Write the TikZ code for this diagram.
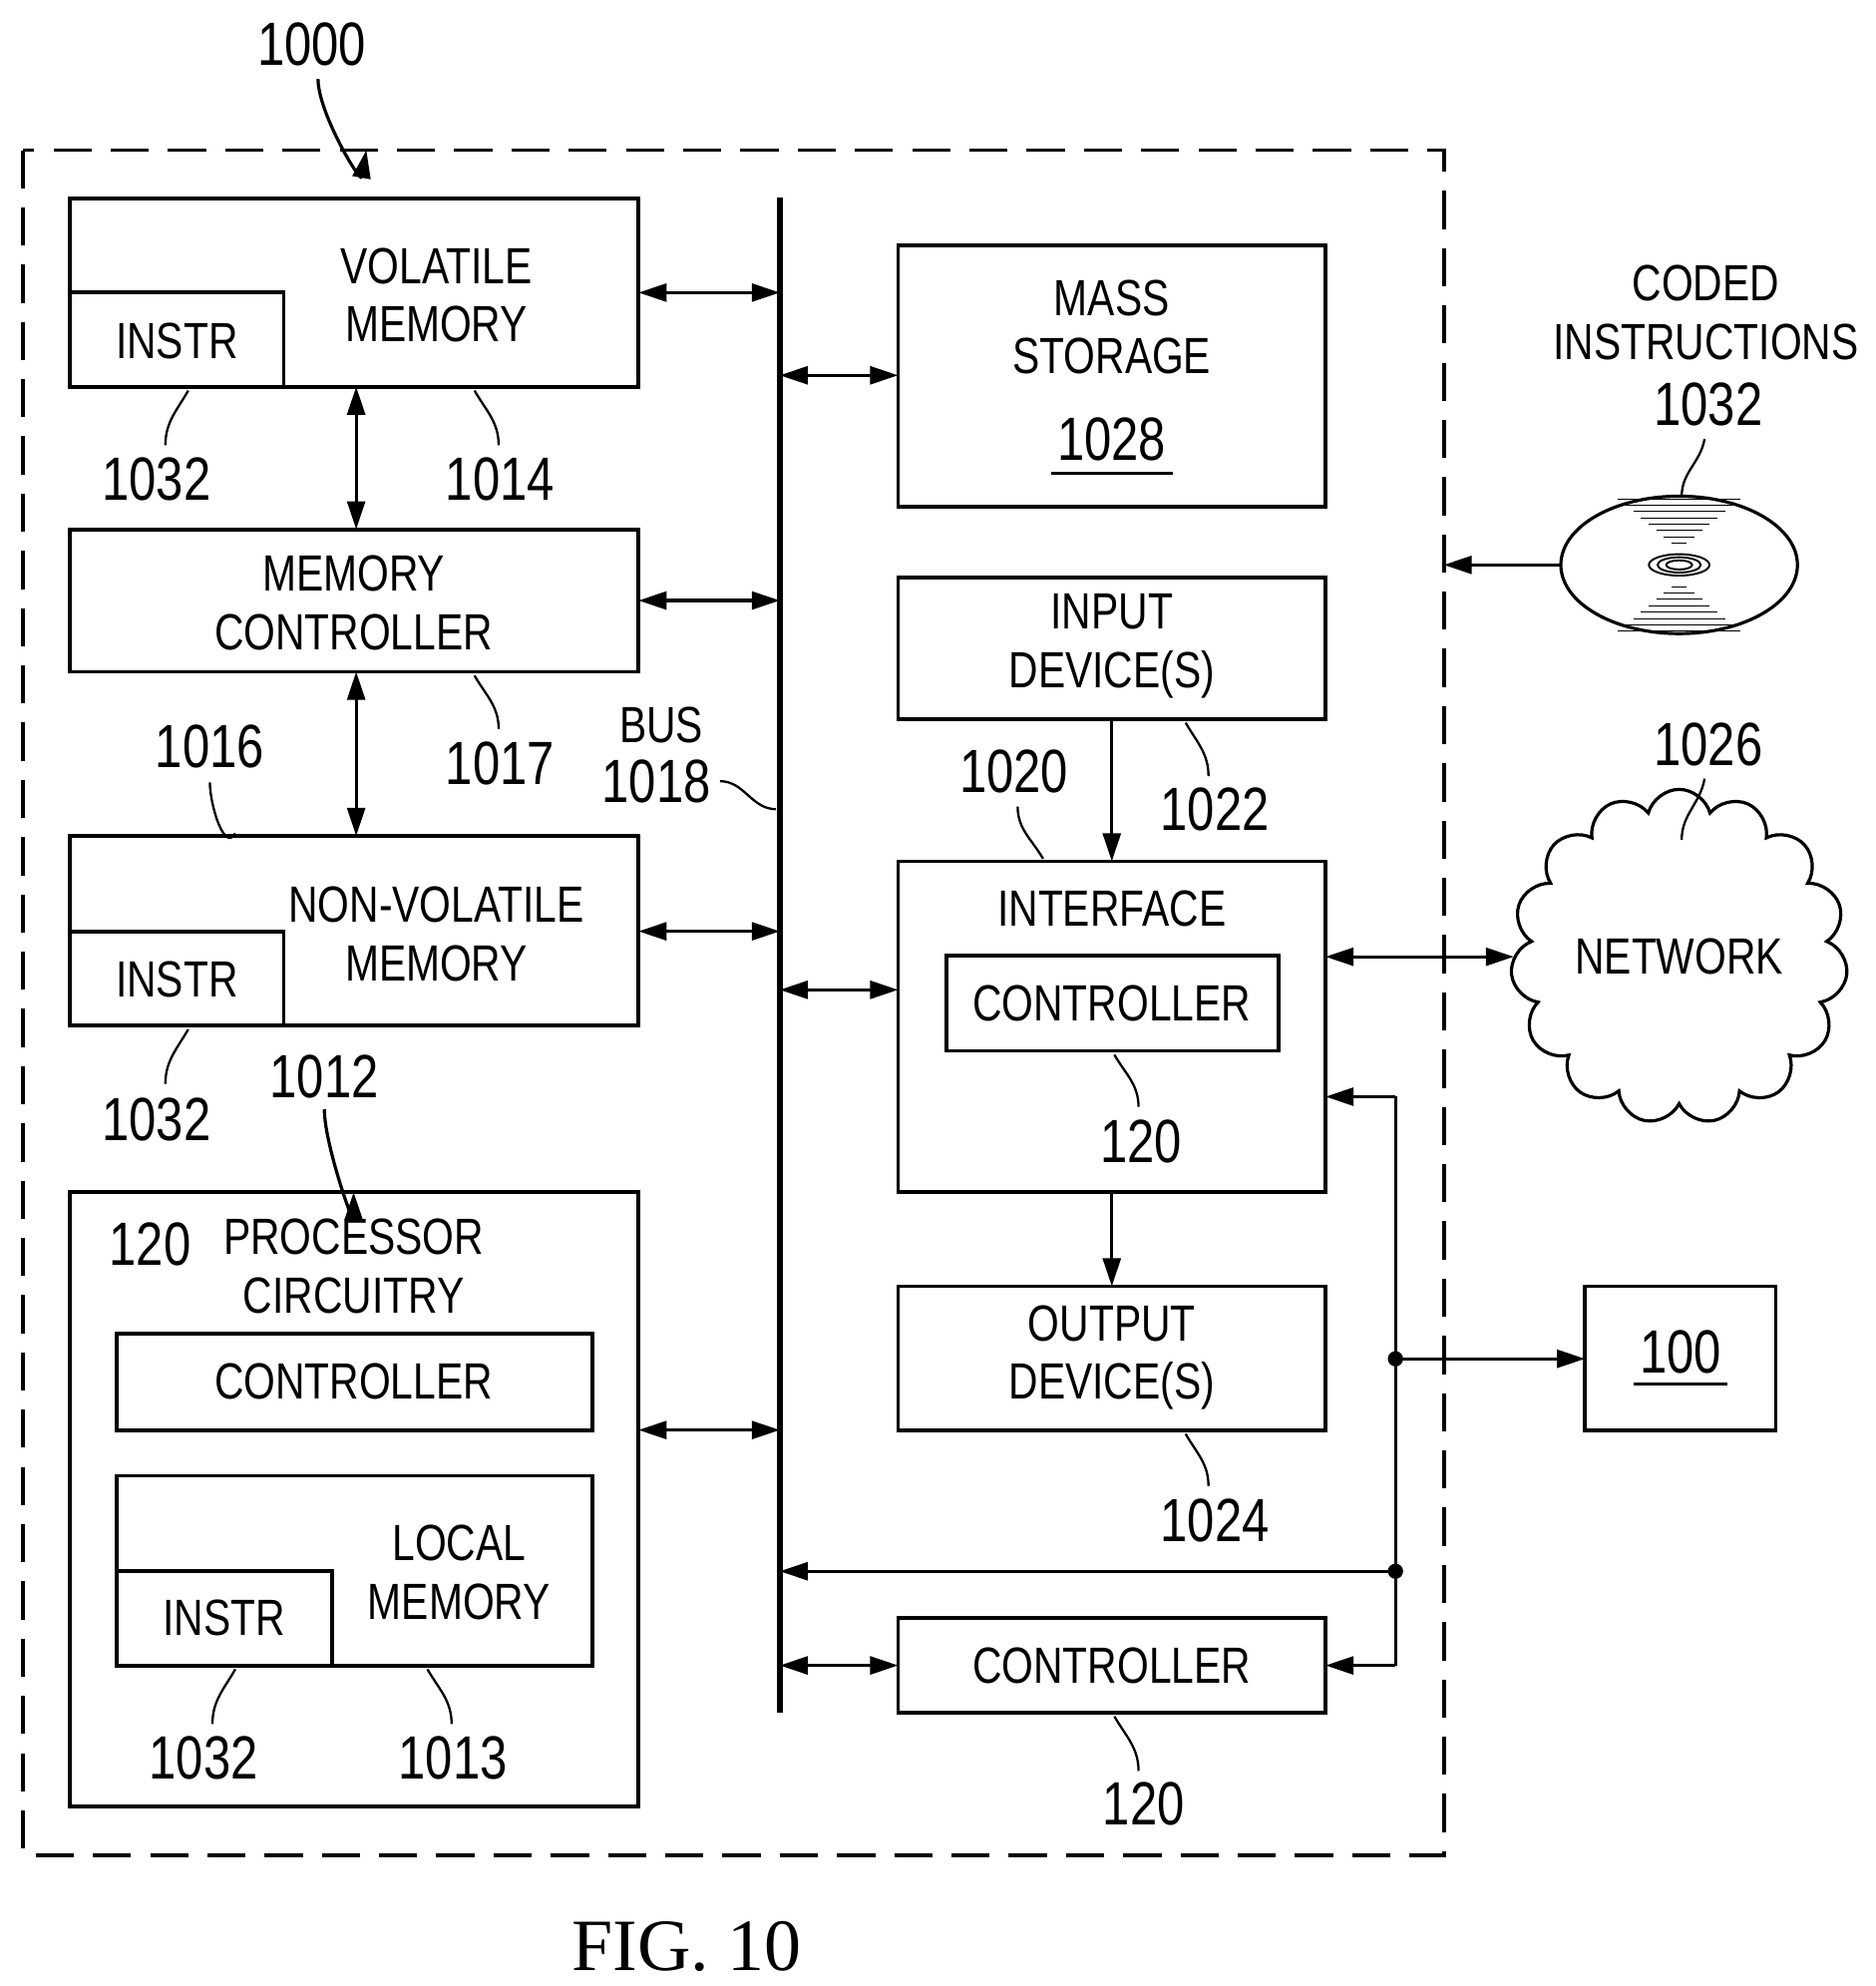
\documentclass[tikz,border=0pt]{standalone}
\usepackage{fontspec}
\setmainfont{Liberation Sans}[FakeStretch=0.8]
\newfontfamily\figfont{Liberation Serif}
\usetikzlibrary{arrows.meta,shapes.symbols}
\begin{document}
\begin{tikzpicture}[x=1pt,y=-1pt,
 box/.style={draw,line width=3pt},
 txt/.style={font=\fontsize{40}{46}\selectfont,align=center,inner sep=0},
 num/.style={font=\fontsize{48}{52}\selectfont,inner sep=0},
 ar/.style={line width=2.5pt,-{Triangle[length=22pt,width=14pt]}},
 dar/.style={line width=2.5pt,{Triangle[length=22pt,width=14pt]}-{Triangle[length=22pt,width=14pt]}},
 ld/.style={line width=1.8pt}]
\useasboundingbox (0,0) rectangle (1474,1561);
\draw[line width=3pt,dash pattern=on 30pt off 15pt] (18,118) rectangle (1135,1458);
% left boxes
\draw[box] (55,156) rectangle (502,304); \draw[box] (55,230) rectangle (223,304);
\node[txt] (vm) at (343,232) {VOLATILE\\MEMORY}; \node[txt] at (139,268) {INSTR};
\draw[box] (55,416) rectangle (502,528); \node[txt] (mc) at (278,474) {MEMORY\\CONTROLLER};
\draw[box] (55,657) rectangle (502,806); \draw[box] (55,732) rectangle (223,806);
\node[txt] at (343,734) {NON-VOLATILE\\MEMORY}; \node[txt] at (139,770) {INSTR};
\draw[box] (55,937) rectangle (502,1420);
\node[num] at (118,978) {120}; \node[txt] at (278,995) {PROCESSOR\\CIRCUITRY};
\draw[box] (92,1048) rectangle (466,1124); \node[txt] at (278,1086) {CONTROLLER};
\draw[box] (92,1160) rectangle (466,1309); \draw[box] (92,1235) rectangle (261,1309);
\node[txt] at (361,1236) {LOCAL\\MEMORY}; \node[txt] at (176,1272) {INSTR};
% vertical arrows
\draw[dar] (280,304) -- (280,416); \draw[dar] (280,528) -- (280,657);
% labels
\node[num] at (123,377) {1032}; \draw[ld] (148,307) to[out=-120,in=90] (130,350);
\node[num] at (393,377) {1014}; \draw[ld] (373,307) to[out=-60,in=90] (392,350);
\node[num] at (165,587) {1016}; \draw[ld] (185,655) to[out=-120,in=-90] (165,615);
\node[num] at (393,600) {1017}; \draw[ld] (373,531) to[out=-60,in=90] (392,573);
\node[num] at (123,880) {1032}; \draw[ld] (148,809) to[out=-120,in=90] (130,852);
\node[num] at (255,846) {1012}; \draw[ar] (255,872) to[out=-90,in=-90] (278,937);
\node[num] at (160,1382) {1032}; \draw[ld] (185,1312) to[out=-120,in=90] (167,1355);
\node[num] at (356,1382) {1013}; \draw[ld] (336,1312) to[out=-60,in=90] (355,1355);
% bus
\draw[line width=5pt] (613,155) -- (613,1346);
\node[txt] at (520,570) {BUS}; \node[num] at (516,614) {1018};
\draw[ld] (566,614) to[out=0,in=180] (610,636);
\draw[dar] (502,230) -- (613,230); \draw[dar] (502,472) -- (613,472);
\draw[dar] (502,732) -- (613,732); \draw[dar] (502,1124) -- (613,1124);
% right boxes
\draw[box] (706,193) rectangle (1042,398);
\node[txt] at (874,257) {MASS\\STORAGE}; \node[num] at (874,345) {1028};
\draw[line width=2pt] (826,372) -- (922,372);
\draw[dar] (613,295) -- (706,295);
\draw[box] (706,454) rectangle (1042,565); \node[txt] at (874,508) {INPUT\\DEVICE(S)};
\draw[ar] (874,565) -- (874,677);
\node[num] at (797,606) {1020}; \draw[ld] (820,675) to[out=120,in=-90] (800,634);
\node[num] at (955,636) {1022}; \draw[ld] (932,568) to[out=-60,in=90] (950,610);
\draw[box] (706,677) rectangle (1042,937); \node[txt] at (874,714) {INTERFACE};
\draw[box] (744,751) rectangle (1005,826); \node[txt] at (874,789) {CONTROLLER};
\node[num] at (897,897) {120}; \draw[ld] (876,829) to[out=-60,in=90] (895,870);
\draw[dar] (613,778) -- (706,778);
\draw[ar] (874,937) -- (874,1011);
\draw[box] (706,1011) rectangle (1042,1124); \node[txt] at (874,1067) {OUTPUT\\DEVICE(S)};
\node[num] at (955,1195) {1024}; \draw[ld] (932,1127) to[out=-60,in=90] (950,1168);
\draw[box] (706,1272) rectangle (1042,1346); \node[txt] at (874,1309) {CONTROLLER};
\node[num] at (899,1418) {120}; \draw[ld] (876,1349) to[out=-60,in=90] (895,1392);
\draw[dar] (613,1309) -- (706,1309);
% feedback lines
\coordinate (j1) at (1097,1068); \coordinate (j2) at (1097,1235);
\draw[line width=2.5pt] (1097,862) -- (1097,1309);
\draw[ar] (1097,862) -- (1042,862); \draw[ar] (1097,1309) -- (1042,1309);
\draw[ar] (j2) -- (613,1235); \fill (j1) circle (6); \fill (j2) circle (6);
\draw[box] (1246,1011) rectangle (1396,1124); \node[num] at (1321,1063) {100};
\draw[line width=2pt] (1284,1088) -- (1358,1088);
\draw[ar] (j1) -- (1246,1068);
% network
\node[cloud,draw,line width=2.5pt,cloud puffs=15,minimum width=265,minimum height=185,txt] (net) at (1320,752) {NETWORK};
\draw[dar] (1042,752) -- (1190,752);
\node[num] at (1343,585) {1026}; \draw[ld] (1340,612) to[out=-100,in=90] (1322,660);
% disc
\node[txt] at (1341,246) {CODED\\INSTRUCTIONS}; \node[num] at (1343,318) {1032};
\draw[line width=2.5pt] (1320,444) ellipse (93 and 54);
\foreach \r in {6,10,14} \draw[line width=1.5pt] (1320,444) ellipse ({\r*1.7} and \r*0.6);
\foreach \k in {1,...,8} {\draw[line width=0.6pt] (1320-\k*6,{444-12-\k*5}) -- (1320+\k*6,{444-12-\k*5});
 \draw[line width=0.6pt] (1320-\k*6,{444+12+\k*5}) -- (1320+\k*6,{444+12+\k*5});}
\draw[ld] (1340,345) to[out=-100,in=90] (1322,390);
\draw[ar] (1228,444) -- (1135,444);
% title
\node[num] at (245,35) {1000}; \draw[ar] (250,62) to[out=-90,in=-100] (288,118);
\node[font=\figfont\fontsize{58}{60}\selectfont] at (540,1530) {FIG. 10};
\end{tikzpicture}
\end{document}
